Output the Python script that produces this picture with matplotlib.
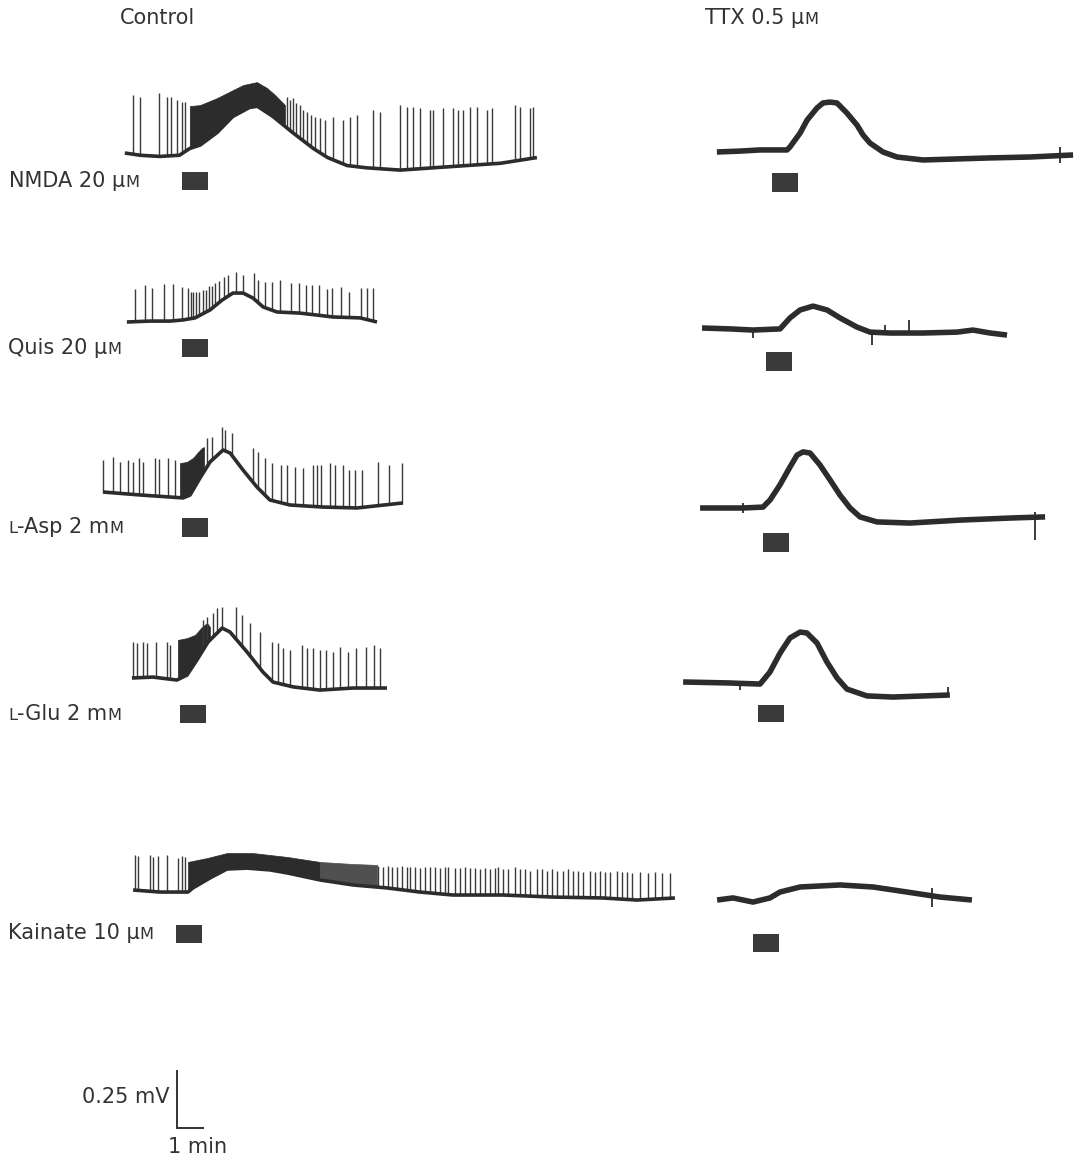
import numpy as np
import matplotlib
matplotlib.use("Agg")
import matplotlib.pyplot as plt
from matplotlib.patches import Rectangle
from matplotlib.transforms import IdentityTransform

# ---------------- figure geometry ----------------
W, H = 1080, 1158
PX_PER_MIN = 26.0      # horizontal scale (1 min bar)
PX_PER_MV = 228.0      # vertical scale (0.25 mV bar = 57 px)
DRUG_DUR = 1.0         # min, drug application bar

TRACE = "#2c2c2c"
SPIKE = "#3a3a3a"
BAR = "#3a3a3a"
TEXT = "#333333"

# ---------------- data (time in min from drug onset, voltage in mV from start) ----------------
# ---- Control, NMDA 20 uM ----
NMDA_C_T = [-2.2, -1.6, -0.85, -0.1, 0.3, 0.7, 1.35, 1.95, 2.6, 2.9, 3.5, 4.25, 5.05, 5.6,
            6.35, 7.1, 8.4, 9.65, 10.95, 12.25, 13.65]
NMDA_C_V = [0.0, -0.01, -0.015, -0.01, 0.02, 0.035, 0.09, 0.16, 0.2, 0.205, 0.16, 0.09, 0.02,
            -0.02, -0.055, -0.065, -0.075, -0.065, -0.055, -0.045, -0.02]
NMDA_C_DENSE_T = [0.3, 0.69, 1.35, 1.96, 2.35, 2.88, 3.27, 3.58, 3.96]
NMDA_C_DENSE_V = [0.206, 0.21, 0.241, 0.276, 0.298, 0.311, 0.285, 0.254, 0.21]
NMDA_C_SPK_T = [-1.9, -1.62, -0.88, -0.58, -0.42, -0.2, 0.0, 0.12,
                4.04, 4.15, 4.27, 4.38, 4.54, 4.65, 4.81, 4.96, 5.12, 5.31, 5.5,
                5.81, 6.19, 6.46, 6.73, 7.35, 7.62, 8.38, 8.65, 8.88, 9.15, 9.54, 9.65, 10.04,
                10.42, 10.62, 10.81, 11.08, 11.35, 11.73, 11.92, 12.81, 13.0, 13.38, 13.5]
NMDA_C_SPK_V = [0.254, 0.246, 0.263, 0.246, 0.246, 0.232, 0.224, 0.224,
                0.246, 0.232, 0.241, 0.219, 0.21, 0.189, 0.18, 0.167, 0.158, 0.154, 0.145,
                0.158, 0.145, 0.158, 0.167, 0.189, 0.18, 0.21, 0.202, 0.202, 0.197, 0.189, 0.189,
                0.197, 0.197, 0.189, 0.189, 0.202, 0.202, 0.189, 0.197, 0.21, 0.202, 0.197, 0.202]

# ---- Control, Quis 20 uM ----
QUIS_C_T = [-2.12, -1.23, -0.46, 0.04, 0.5, 1.08, 1.54, 1.96, 2.35, 2.73, 3.12, 3.65, 4.54,
            5.81, 6.85, 7.5]
QUIS_C_V = [0.0, 0.004, 0.004, 0.009, 0.018, 0.053, 0.096, 0.127, 0.127, 0.105, 0.066, 0.044,
            0.039, 0.022, 0.018, 0.0]
QUIS_C_SPK_T = [-1.81, -1.42, -1.15, -0.69, -0.35, 0.0, 0.23, 0.35, 0.42, 0.54,
                0.65, 0.81, 0.92, 1.04, 1.15, 1.27, 1.42, 1.62, 1.77, 2.08,
                2.35, 2.77, 2.92, 3.19, 3.46, 3.77, 4.19, 4.5, 4.77, 5.0,
                5.27, 5.58, 5.77, 6.12, 6.42, 6.88, 7.12, 7.35]
QUIS_C_SPK_V = [0.145, 0.162, 0.149, 0.167, 0.167, 0.154, 0.149, 0.132, 0.132, 0.132,
                0.132, 0.14, 0.14, 0.158, 0.158, 0.171, 0.18, 0.197, 0.206, 0.219,
                0.206, 0.215, 0.184, 0.175, 0.175, 0.184, 0.171, 0.171, 0.162, 0.162,
                0.162, 0.145, 0.149, 0.154, 0.132, 0.149, 0.149, 0.149]

# ---- Control, L-Asp 2 mM ----
ASP_C_T = [-3.04, -1.62, 0.04, 0.31, 0.69, 1.08, 1.58, 1.85, 2.35, 2.88, 3.38, 4.15, 5.42,
           6.73, 8.5]
ASP_C_V = [0.0, -0.013, -0.026, -0.013, 0.061, 0.132, 0.184, 0.171, 0.096, 0.022, -0.035,
           -0.057, -0.066, -0.07, -0.048]
ASP_C_DENSE_T = [-0.08, 0.19, 0.42, 0.62, 0.77, 0.85]
ASP_C_DENSE_V = [0.127, 0.132, 0.149, 0.175, 0.193, 0.197]
ASP_C_SPK_T = [-3.04, -2.65, -2.38, -2.08, -1.88, -1.65, -1.5, -1.04, -0.88, -0.54,
               -0.27, 0.96, 1.15, 1.54, 1.65, 1.92, 2.73, 2.92, 3.19, 3.46,
               3.81, 4.04, 4.35, 4.65, 5.04, 5.19, 5.35, 5.69, 5.88, 6.19,
               6.42, 6.65, 6.92, 7.54, 7.96, 8.46]
ASP_C_SPK_V = [0.14, 0.154, 0.132, 0.14, 0.132, 0.149, 0.132, 0.149, 0.145, 0.149,
               0.14, 0.237, 0.241, 0.285, 0.272, 0.259, 0.193, 0.175, 0.149, 0.127,
               0.118, 0.118, 0.11, 0.105, 0.118, 0.118, 0.118, 0.127, 0.118, 0.118,
               0.096, 0.096, 0.096, 0.132, 0.118, 0.127]

# ---- Control, L-Glu 2 mM ----
GLU_C_T = [-1.85, -1.04, -0.12, 0.27, 0.65, 1.08, 1.62, 1.92, 2.58, 3.19, 3.58, 4.35, 5.38,
           6.65, 7.96]
GLU_C_V = [0.0, 0.004, -0.009, 0.013, 0.079, 0.158, 0.219, 0.202, 0.114, 0.026, -0.018,
           -0.039, -0.053, -0.044, -0.044]
GLU_C_DENSE_T = [-0.08, 0.27, 0.58, 0.85, 1.04, 1.15]
GLU_C_DENSE_V = [0.167, 0.175, 0.189, 0.224, 0.241, 0.224]
GLU_C_SPK_T = [-1.81, -1.65, -1.42, -1.27, -0.92, -0.5, -0.38, 0.88, 1.04, 1.27,
               1.42, 1.62, 2.15, 2.38, 2.69, 3.08, 3.54, 3.77, 3.96, 4.23,
               4.69, 4.88, 5.12, 5.38, 5.62, 5.88, 6.15, 6.46, 6.77, 7.15,
               7.46, 7.69]
GLU_C_SPK_V = [0.158, 0.154, 0.158, 0.154, 0.158, 0.158, 0.145, 0.254, 0.268, 0.285,
               0.307, 0.311, 0.311, 0.276, 0.241, 0.202, 0.158, 0.154, 0.132, 0.123,
               0.145, 0.132, 0.132, 0.123, 0.123, 0.114, 0.136, 0.114, 0.132, 0.136,
               0.145, 0.132]

# ---- Control, Kainate 10 uM ----
KAIN_C_T = [-1.65, -0.62, 0.46, 0.65, 1.31, 1.96, 2.73, 3.62, 4.27, 5.54, 6.81, 8.12, 9.38,
            10.65, 12.58, 14.5, 16.42, 17.73, 19.19]
KAIN_C_V = [0.0, -0.009, -0.009, 0.009, 0.053, 0.092, 0.096, 0.088, 0.075, 0.044, 0.022,
            0.009, -0.009, -0.022, -0.022, -0.031, -0.035, -0.044, -0.035]
KAIN_C_DENSE_T = [0.46, 1.19, 1.96, 2.96, 4.27, 5.54]
KAIN_C_DENSE_V = [0.123, 0.14, 0.162, 0.162, 0.145, 0.123]
KAIN_C_SEMI_T = [5.54, 6.81, 7.73]
KAIN_C_SEMI_V = [0.123, 0.114, 0.11]
KAIN_C_SPK_T = [-1.58, -1.46, -1.0, -0.88, -0.69, -0.35, 0.08, 0.23, 0.35,
                7.78, 7.97, 8.17, 8.29, 8.49, 8.68, 8.87, 9.0, 9.19, 9.38, 9.58, 9.77,
                9.96, 10.15, 10.35, 10.47, 10.73, 10.92, 11.12, 11.31, 11.5, 11.69, 11.88,
                12.08, 12.27, 12.4, 12.59, 12.78, 13.04, 13.23, 13.42, 13.62, 13.87, 14.07,
                14.26, 14.45, 14.64, 14.9, 15.09, 15.28, 15.47, 15.67, 15.92, 16.12, 16.31,
                16.5, 16.69, 16.95, 17.14, 17.33, 17.53, 17.85, 18.15, 18.42, 18.69, 19.0]
KAIN_C_SPK_V = [0.154, 0.15, 0.154, 0.145, 0.15, 0.154, 0.14, 0.15, 0.145,
                0.105, 0.1, 0.105, 0.1, 0.1, 0.105, 0.1, 0.1, 0.1, 0.095, 0.1, 0.1,
                0.1, 0.095, 0.1, 0.1, 0.095, 0.095, 0.1, 0.095, 0.095, 0.09, 0.095,
                0.09, 0.095, 0.1, 0.09, 0.09, 0.1, 0.09, 0.09, 0.085, 0.09, 0.09,
                0.085, 0.09, 0.085, 0.085, 0.09, 0.085, 0.085, 0.08, 0.085, 0.08, 0.085,
                0.08, 0.08, 0.085, 0.08, 0.08, 0.075, 0.08, 0.075, 0.08, 0.075, 0.075]

# ---- TTX 0.5 uM traces ----
NMDA_T_T = [-2.12, -1.23, -0.46, 0.58, 0.69, 1.08, 1.35, 1.73, 1.96, 2.23, 2.5, 2.88, 3.27,
            3.5, 3.77, 4.04, 4.27, 4.81, 5.81, 8.38, 9.92, 11.58]
NMDA_T_V = [0.0, 0.004, 0.009, 0.009, 0.022, 0.083, 0.14, 0.193, 0.215, 0.219, 0.215, 0.171,
            0.118, 0.075, 0.039, 0.018, 0.0, -0.022, -0.035, -0.026, -0.022, -0.013]
NMDA_T_ART = ([11.08], [-0.048], [0.022])

QUIS_T_T = [-2.46, -1.38, -0.5, 0.54, 0.92, 1.31, 1.81, 2.35, 2.85, 3.5, 4.0, 4.77, 6.04,
            7.35, 7.96, 8.62, 9.27]
QUIS_T_V = [0.0, -0.004, -0.009, -0.004, 0.044, 0.079, 0.096, 0.079, 0.044, 0.004, -0.018,
            -0.022, -0.022, -0.018, -0.009, -0.022, -0.031]
QUIS_T_ART = ([-0.5, 4.08, 4.58, 5.5], [-0.044, -0.075, -0.02, -0.02], [0.0, -0.02, 0.013, 0.035])

ASP_T_T = [-2.42, -0.77, 0.0, 0.27, 0.65, 1.04, 1.31, 1.54, 1.81, 2.19, 2.58, 2.96, 3.35,
           3.73, 4.38, 5.65, 7.58, 9.5, 10.85]
ASP_T_V = [0.0, 0.0, 0.004, 0.035, 0.101, 0.18, 0.232, 0.246, 0.241, 0.189, 0.123, 0.057, 0.0,
           -0.039, -0.061, -0.066, -0.053, -0.044, -0.039]
ASP_T_ART = ([-0.77, 10.46], [-0.02, -0.14], [0.02, -0.018])

GLU_T_T = [-2.88, -1.19, 0.08, 0.46, 0.85, 1.23, 1.62, 1.88, 2.27, 2.65, 3.04, 3.42, 4.19,
           5.19, 7.38]
GLU_T_V = [0.0, -0.004, -0.009, 0.044, 0.127, 0.193, 0.219, 0.215, 0.171, 0.088, 0.018, -0.031,
           -0.061, -0.066, -0.057]
GLU_T_ART = ([-0.69, 7.31], [-0.035, -0.057], [0.0, -0.022])

KAIN_T_T = [-1.38, -0.77, 0.0, 0.65, 1.04, 1.81, 3.35, 4.62, 5.92, 7.19, 8.42]
KAIN_T_V = [0.0, 0.009, -0.009, 0.009, 0.035, 0.057, 0.066, 0.057, 0.035, 0.013, 0.0]
KAIN_T_ART = ([6.88], [-0.031], [0.053])

# ---------------- layout: pixel position of (t=0, v=0), drug-bar top/bottom (px) ----------------
LAYOUT = {
    "nmda_c": (182, 153, 172, 190),
    "quis_c": (182, 322, 339, 357),
    "asp_c": (182, 492, 518, 537),
    "glu_c": (180, 678, 705, 723),
    "kain_c": (176, 890, 925, 943),
    "nmda_t": (772, 152, 173, 192),
    "quis_t": (766, 328, 352, 371),
    "asp_t": (763, 508, 533, 552),
    "glu_t": (758, 682, 705, 722),
    "kain_t": (753, 900, 934, 952),
}

fig = plt.figure(figsize=(W / 100, H / 100), dpi=100)
fig.patch.set_facecolor("white")


def trace_axes(x0, y0, tlim=(-5.0, 21.0), vlim=(-0.5, 0.5)):
    left = x0 + tlim[0] * PX_PER_MIN
    width = (tlim[1] - tlim[0]) * PX_PER_MIN
    top = y0 - vlim[1] * PX_PER_MV
    height = (vlim[1] - vlim[0]) * PX_PER_MV
    ax = fig.add_axes([left / W, 1 - (top + height) / H, width / W, height / H])
    ax.set_xlim(tlim)
    ax.set_ylim(vlim)
    ax.axis("off")
    ax.patch.set_alpha(0)
    return ax


def fill_region(ax, bt, bv, dt, dv, color):
    lo_t = [t for t in bt if dt[0] < t < dt[-1]]
    tt = np.array(sorted(set(list(dt) + lo_t)))
    lo = np.interp(tt, bt, bv)
    hi = np.interp(tt, dt, dv)
    ax.fill_between(tt, lo, hi, color=color, lw=0.5, zorder=2)


def draw(name, bt, bv, lw, spikes=None, dense=None, semi=None, art=None):
    xb, yb, btop, bbot = LAYOUT[name]
    ax = trace_axes(xb, yb)
    ax.plot(bt, bv, color=TRACE, lw=lw, solid_joinstyle="round", solid_capstyle="butt", zorder=3)
    if dense is not None:
        fill_region(ax, bt, bv, dense[0], dense[1], TRACE)
    if semi is not None:
        fill_region(ax, bt, bv, semi[0], semi[1], "#505050")
    if spikes is not None:
        st = np.array(spikes[0])
        base = np.interp(st, bt, bv)
        ax.vlines(st, base, spikes[1], color=SPIKE, lw=1.0, zorder=2)
    if art is not None:
        ax.vlines(art[0], art[1], art[2], color=TRACE, lw=1.3, zorder=3)
    v_top = (yb - btop) / PX_PER_MV
    v_bot = (yb - bbot) / PX_PER_MV
    ax.add_patch(Rectangle((0, v_bot), DRUG_DUR, v_top - v_bot, facecolor=BAR, edgecolor="none", zorder=3))
    return ax


# control traces
draw("nmda_c", NMDA_C_T, NMDA_C_V, 2.6, spikes=(NMDA_C_SPK_T, NMDA_C_SPK_V),
     dense=(NMDA_C_DENSE_T, NMDA_C_DENSE_V))
draw("quis_c", QUIS_C_T, QUIS_C_V, 2.6, spikes=(QUIS_C_SPK_T, QUIS_C_SPK_V))
draw("asp_c", ASP_C_T, ASP_C_V, 2.6, spikes=(ASP_C_SPK_T, ASP_C_SPK_V),
     dense=(ASP_C_DENSE_T, ASP_C_DENSE_V))
draw("glu_c", GLU_C_T, GLU_C_V, 2.6, spikes=(GLU_C_SPK_T, GLU_C_SPK_V),
     dense=(GLU_C_DENSE_T, GLU_C_DENSE_V))
draw("kain_c", KAIN_C_T, KAIN_C_V, 2.6, spikes=(KAIN_C_SPK_T, KAIN_C_SPK_V),
     dense=(KAIN_C_DENSE_T, KAIN_C_DENSE_V), semi=(KAIN_C_SEMI_T, KAIN_C_SEMI_V))

# TTX traces
draw("nmda_t", NMDA_T_T, NMDA_T_V, 4.0, art=NMDA_T_ART)
draw("quis_t", QUIS_T_T, QUIS_T_V, 4.0, art=QUIS_T_ART)
draw("asp_t", ASP_T_T, ASP_T_V, 4.0, art=ASP_T_ART)
draw("glu_t", GLU_T_T, GLU_T_V, 4.0, art=GLU_T_ART)
draw("kain_t", KAIN_T_T, KAIN_T_V, 4.0, art=KAIN_T_ART)

# scale bar: 0.25 mV, 1 min
SCALE_MV = 0.25
SCALE_MIN = 1.0
sax = trace_axes(177, 1128)
sax.plot([0, 0, SCALE_MIN], [SCALE_MV, 0, 0], color=TEXT, lw=1.4, solid_joinstyle="miter")

# ---------------- labels ----------------
renderer = fig.canvas.get_renderer()
FS = 15
SC = 0.78  # small caps


def label(x, y, parts):
    cur = x
    for s, scale in parts:
        t = fig.text(cur, H - y, s, transform=IdentityTransform(), fontsize=FS * scale,
                     color=TEXT, ha="left", va="baseline", family="DejaVu Sans")
        cur = t.get_window_extent(renderer).x1


label(120, 24, [("Control", 1)])
label(705, 24, [("TTX 0.5 μ", 1), ("M", SC)])
label(9, 187, [("NMDA 20 μ", 1), ("M", SC)])
label(8, 354, [("Quis 20 μ", 1), ("M", SC)])
label(8, 533, [("L", SC), ("-Asp 2 m", 1), ("M", SC)])
label(8, 720, [("L", SC), ("-Glu 2 m", 1), ("M", SC)])
label(8, 939, [("Kainate 10 μ", 1), ("M", SC)])
label(82, 1103, [("0.25 mV", 1)])
label(168, 1153, [("1 min", 1)])

fig.savefig("out.png", dpi=100, facecolor="white")
